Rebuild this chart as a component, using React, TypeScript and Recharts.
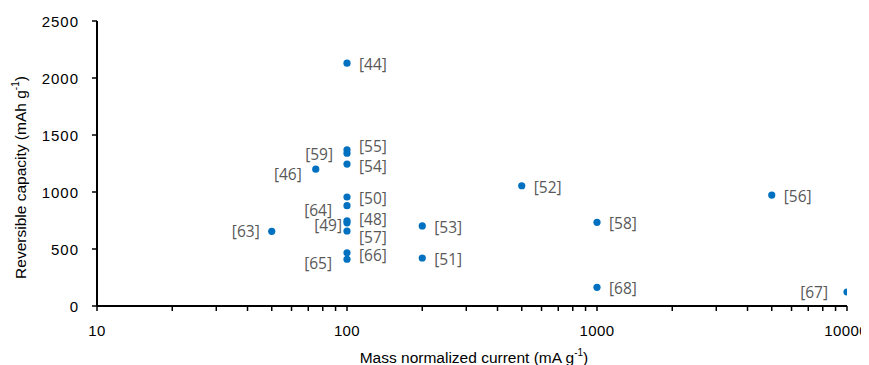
import React from "react";
import { ScatterChart, Scatter, XAxis, YAxis } from "recharts";

const refs = ["[44]", "[55]", "[59]", "[54]", "[46]", "[50]", "[64]", "[48]", "[49]", "[57]", "[63]", "[66]", "[65]", "[53]", "[51]", "[52]", "[56]", "[58]", "[68]", "[67]"];
const currents = [100, 100, 100, 100, 75, 100, 100, 100, 100, 100, 50, 100, 100, 200, 200, 500, 5000, 1000, 1000, 10000];
const capacities = [2130, 1370, 1340, 1245, 1200, 956, 880, 748, 730, 658, 655, 467, 410, 702, 421, 1055, 973, 734, 164, 123];

const xTicks = [10, 20, 30, 40, 50, 60, 70, 80, 90, 100, 200, 300, 400, 500, 600, 700, 800, 900, 1000, 2000, 3000, 4000, 5000, 6000, 7000, 8000, 9000, 10000];
const xLabelTicks = [10, 100, 1000, 10000];
const yTicks = [0, 500, 1000, 1500, 2000, 2500];

// label layout (side, horizontal gap, vertical shift) per point, same order as refs
const labelSide = ["r", "r", "l", "r", "l", "r", "l", "r", "l", "r", "l", "r", "l", "r", "r", "r", "r", "r", "r", "l"];
const labelGap = [12, 12, 14, 12, 14, 12, 15, 12, 5, 12, 12, 12, 15, 12, 12, 12, 12, 12, 12, 19];
const labelShift = [1, -4, 1, 2, 5, 1, 4, -2, 2, 6, 0, 2, 4, 1, 1, 1, 1, 1, 1, 0];

const data = refs.map((r, i) => ({ x: currents[i], y: capacities[i], ref: r, i }));

const FONT = "'Liberation Sans', Arial, sans-serif";
const CHART_W = 861;

const Dot = (props: any) => {
  const { cx, cy, payload } = props;
  const i = payload.i;
  const side = labelSide[i];
  const gap = labelGap[i];
  const tx = side === "r" ? cx + gap : cx - gap;
  return (
    <g>
      <circle cx={cx} cy={cy} r={3.6} fill="#0070C0" />
      <text
        x={tx}
        y={cy + labelShift[i]}
        textAnchor={side === "r" ? "start" : "end"}
        dominantBaseline="central"
        fontFamily="'Open Sans', sans-serif"
        fontSize={15.5}
        fill="#595959"
      >
        {payload.ref}
      </text>
    </g>
  );
};

const XTick = (props: any) => {
  const { x, y, payload } = props;
  if (!xLabelTicks.includes(payload.value)) return <g />;
  const nearEdge = x + 24 > CHART_W;
  return (
    <text
      x={nearEdge ? CHART_W - 1 : x}
      y={y}
      dy="0.71em"
      textAnchor={nearEdge ? "end" : "middle"}
      fontFamily={FONT}
      fontSize={15}
      letterSpacing={0.4}
      fill="#000"
    >
      {payload.value}
    </text>
  );
};

const YTick = (props: any) => {
  const { x, y, payload } = props;
  return (
    <text x={x} y={y} dominantBaseline="central" textAnchor="end" fontFamily={FONT} fontSize={15} letterSpacing={1} fill="#000">
      {payload.value}
    </text>
  );
};

const YTitle = () => (
  <text
    transform="translate(12,169.5) rotate(-90)"
    textAnchor="middle"
    dominantBaseline="central"
    fontFamily={FONT}
    fontSize={15.5}
    fill="#000"
  >
    Reversible capacity (mAh g
    <tspan dy={-5} fontSize={10}>-1</tspan>
    <tspan dy={5}>)</tspan>
  </text>
);

const XTitle = () => (
  <text x={466} y={349} textAnchor="middle" dominantBaseline="central" fontFamily={FONT} fontSize={15.5} fill="#000">
    Mass normalized current (mA g
    <tspan dy={-5} fontSize={10}>-1</tspan>
    <tspan dy={5}>)</tspan>
  </text>
);

export default function App() {
  return (
    <ScatterChart width={CHART_W} height={357} margin={{ top: 13, right: 22, bottom: 0, left: 0 }}>
      <XAxis
        dataKey="x"
        type="number"
        scale="log"
        domain={[10, 10000]}
        ticks={xTicks}
        interval={0}
        allowDataOverflow
        height={59}
        axisLine={{ stroke: "#000", strokeWidth: 2 }}
        tickLine={{ stroke: "#000", strokeWidth: 1.5 }}
        tickSize={5}
        tickMargin={14}
        tick={<XTick />}
        label={<XTitle />}
      />
      <YAxis
        dataKey="y"
        type="number"
        domain={[0, 2500]}
        ticks={yTicks}
        interval={0}
        width={89}
        axisLine={{ stroke: "#000", strokeWidth: 2 }}
        tickLine={{ stroke: "#000", strokeWidth: 1.5 }}
        tickSize={5}
        tickMargin={13}
        tick={<YTick />}
        label={<YTitle />}
      />
      <Scatter data={data} shape={<Dot />} isAnimationActive={false} />
    </ScatterChart>
  );
}
